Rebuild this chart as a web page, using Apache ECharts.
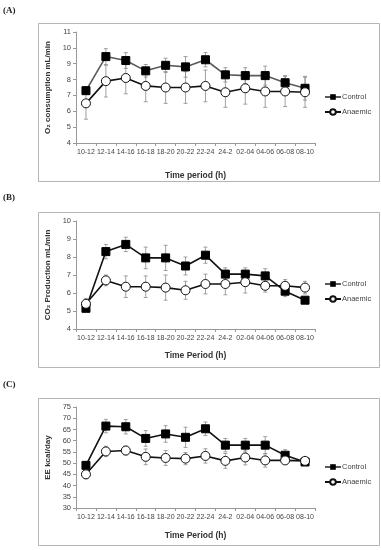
<!DOCTYPE html>
<html><head><meta charset="utf-8">
<script src="https://cdn.jsdelivr.net/npm/echarts@6/dist/echarts.min.js"></script>
<style>html,body{margin:0;padding:0;background:#fff}#c{width:381px;height:550px}</style>
</head><body><div id="c"></div>
<script>
const categories = ['10-12','12-14','14-16','16-18','18-20','20-22','22-24','24-2','02-04','04-06','06-08','08-10'];

const o2Control = [7.3, 9.45, 9.2, 8.55, 8.9, 8.8, 9.25, 8.3, 8.25, 8.25, 7.8, 7.45];
const o2ControlErr = [0.2, 0.5, 0.5, 0.4, 0.45, 0.65, 0.45, 0.45, 0.5, 0.6, 0.45, 0.75];
const o2Anaemic = [6.5, 7.9, 8.1, 7.6, 7.5, 7.5, 7.6, 7.2, 7.45, 7.25, 7.25, 7.2];
const o2AnaemicErr = [1.0, 1.0, 1.0, 1.0, 1.0, 1.0, 1.0, 0.95, 1.0, 1.0, 0.95, 0.95];

const co2Control = [5.15, 8.3, 8.7, 7.95, 7.95, 7.5, 8.1, 7.05, 7.05, 6.95, 6.1, 5.6];
const co2ControlErr = [0.1, 0.4, 0.4, 0.6, 0.7, 0.5, 0.45, 0.35, 0.35, 0.4, 0.3, 0.1];
const co2Anaemic = [5.4, 6.7, 6.35, 6.35, 6.3, 6.15, 6.5, 6.5, 6.6, 6.4, 6.4, 6.3];
const co2AnaemicErr = [0.3, 0.3, 0.6, 0.6, 0.7, 0.5, 0.55, 0.6, 0.6, 0.35, 0.35, 0.35];

const eeControl = [49, 66.5, 66.2, 61, 63, 61.5, 65.3, 58, 58, 58, 53.5, 50.5];
const eeControlErr = [1.5, 3, 3.2, 3.5, 3.7, 4.5, 3, 3, 3, 3.8, 2.5, 1];
const eeAnaemic = [45, 55.2, 55.6, 52.8, 52.3, 52.0, 53.2, 51, 52.5, 51.2, 51.2, 51];
const eeAnaemicErr = [2, 2.3, 2, 3.5, 3.3, 2.7, 3.2, 3.3, 3.3, 3, 1.5, 1];

const panelLabels = ['(A)', '(B)', '(C)'];
const yTitles = ['O\u2082 consumption mL/min', 'CO\u2082 Production mL/min', 'EE kcal/day'];
const xTitles = ['Time period (h)', 'Time Period (h)', 'Time Period (h)'];
const yRanges = [[4, 11, 1], [4, 10, 1], [30, 75, 5]];

const panels = [
  {c: o2Control, ce: o2ControlErr, a: o2Anaemic, ae: o2AnaemicErr, cColor: '#5a5a5a'},
  {c: co2Control, ce: co2ControlErr, a: co2Anaemic, ae: co2AnaemicErr, cColor: '#111'},
  {c: eeControl, ce: eeControlErr, a: eeAnaemic, ae: eeAnaemicErr, cColor: '#111'}
];

const layout = [
  {top: 32, height: 111, box: [38, 23, 341, 158], label: 6, legendTop: 93, nameGap: 28},
  {top: 221, height: 108, box: [38, 212, 341, 155], label: 193, legendTop: 280, nameGap: 22},
  {top: 407, height: 101, box: [38, 398, 341, 147], label: 380, legendTop: 463, nameGap: 23}
];

const grids = [], xAxes = [], yAxes = [], series = [], legends = [], graphics = [];

function errSeries(vals, errs, idx) {
  return {
    type: 'custom', xAxisIndex: idx, yAxisIndex: idx, z: 1, silent: true,
    data: vals.map((v, i) => [i, v - errs[i], v + errs[i]]),
    encode: {x: 0, y: [1, 2]},
    renderItem: function (params, api) {
      const lo = api.coord([api.value(0), api.value(1)]);
      const hi = api.coord([api.value(0), api.value(2)]);
      const w = 2;
      const st = {stroke: '#8a8a8a', lineWidth: 0.8};
      return {type: 'group', children: [
        {type: 'line', shape: {x1: lo[0], y1: lo[1], x2: hi[0], y2: hi[1]}, style: st},
        {type: 'line', shape: {x1: lo[0]-w, y1: lo[1], x2: lo[0]+w, y2: lo[1]}, style: st},
        {type: 'line', shape: {x1: hi[0]-w, y1: hi[1], x2: hi[0]+w, y2: hi[1]}, style: st}
      ]};
    }
  };
}

panels.forEach((p, k) => {
  const L = layout[k];
  grids.push({left: 76, top: L.top, width: 239, height: L.height});
  xAxes.push({
    type: 'category', gridIndex: k, data: categories, boundaryGap: true,
    axisLine: {lineStyle: {color: '#999', width: 1}},
    axisTick: {show: true, length: 3, lineStyle: {color: '#999'}},
    axisLabel: {interval: 0, fontSize: 7, color: '#444', margin: 6, fontFamily: 'Liberation Sans'},
    name: xTitles[k], nameLocation: 'middle', nameGap: L.nameGap,
    nameTextStyle: {fontSize: 8.5, fontWeight: 'bold', color: '#333', fontFamily: 'Liberation Sans'}
  });
  yAxes.push({
    type: 'value', gridIndex: k, min: yRanges[k][0], max: yRanges[k][1], interval: yRanges[k][2],
    splitLine: {show: false},
    axisLine: {show: true, lineStyle: {color: '#999', width: 1}},
    axisTick: {show: true, length: 3, lineStyle: {color: '#999'}},
    axisLabel: {fontSize: 7.5, color: '#444', margin: 5, fontFamily: 'Liberation Sans'},
    name: yTitles[k], nameLocation: 'middle', nameRotate: 90, nameGap: 20,
    nameTextStyle: {fontSize: 8, fontWeight: 'bold', color: '#333', fontFamily: 'Liberation Sans'}
  });
  series.push(errSeries(p.c, p.ce, k));
  series.push(errSeries(p.a, p.ae, k));
  series.push({
    name: 'Control', type: 'line', xAxisIndex: k, yAxisIndex: k, data: p.c, z: 3,
    symbol: 'rect', symbolSize: 8, lineStyle: {color: p.cColor, width: 1.6},
    itemStyle: {color: '#000', borderColor: '#000'}
  });
  series.push({
    name: 'Anaemic', type: 'line', xAxisIndex: k, yAxisIndex: k, data: p.a, z: 4,
    symbol: 'circle', symbolSize: 9, lineStyle: {color: '#111', width: 1.6},
    itemStyle: {color: '#fff', borderColor: '#111', borderWidth: 1}
  });
  legends.push({
    orient: 'vertical', left: 324, top: L.legendTop, padding: 0, itemWidth: 16, itemHeight: 7, itemGap: 7,
    textStyle: {fontSize: 7.5, color: '#444', padding: [0,0,0,-4], fontFamily: 'Liberation Sans'}, data: ['Control', 'Anaemic'],
    selectedMode: false
  });
  graphics.push({
    type: 'rect', shape: {x: L.box[0] + 0.5, y: L.box[1] + 0.5, width: L.box[2], height: L.box[3]},
    style: {fill: 'none', stroke: '#b5b5b5', lineWidth: 1}, z: -1
  });
  graphics.push({
    type: 'text', left: 3, top: L.label,
    style: {text: panelLabels[k], font: 'bold 9px "Liberation Serif"', fill: '#222'}
  });
});

const chart = echarts.init(document.getElementById('c'), null, {renderer: 'canvas'});
chart.setOption({
  animation: false,
  backgroundColor: '#fff',
  grid: grids, xAxis: xAxes, yAxis: yAxes, series: series, legend: legends, graphic: graphics
});
</script>
</body></html>
